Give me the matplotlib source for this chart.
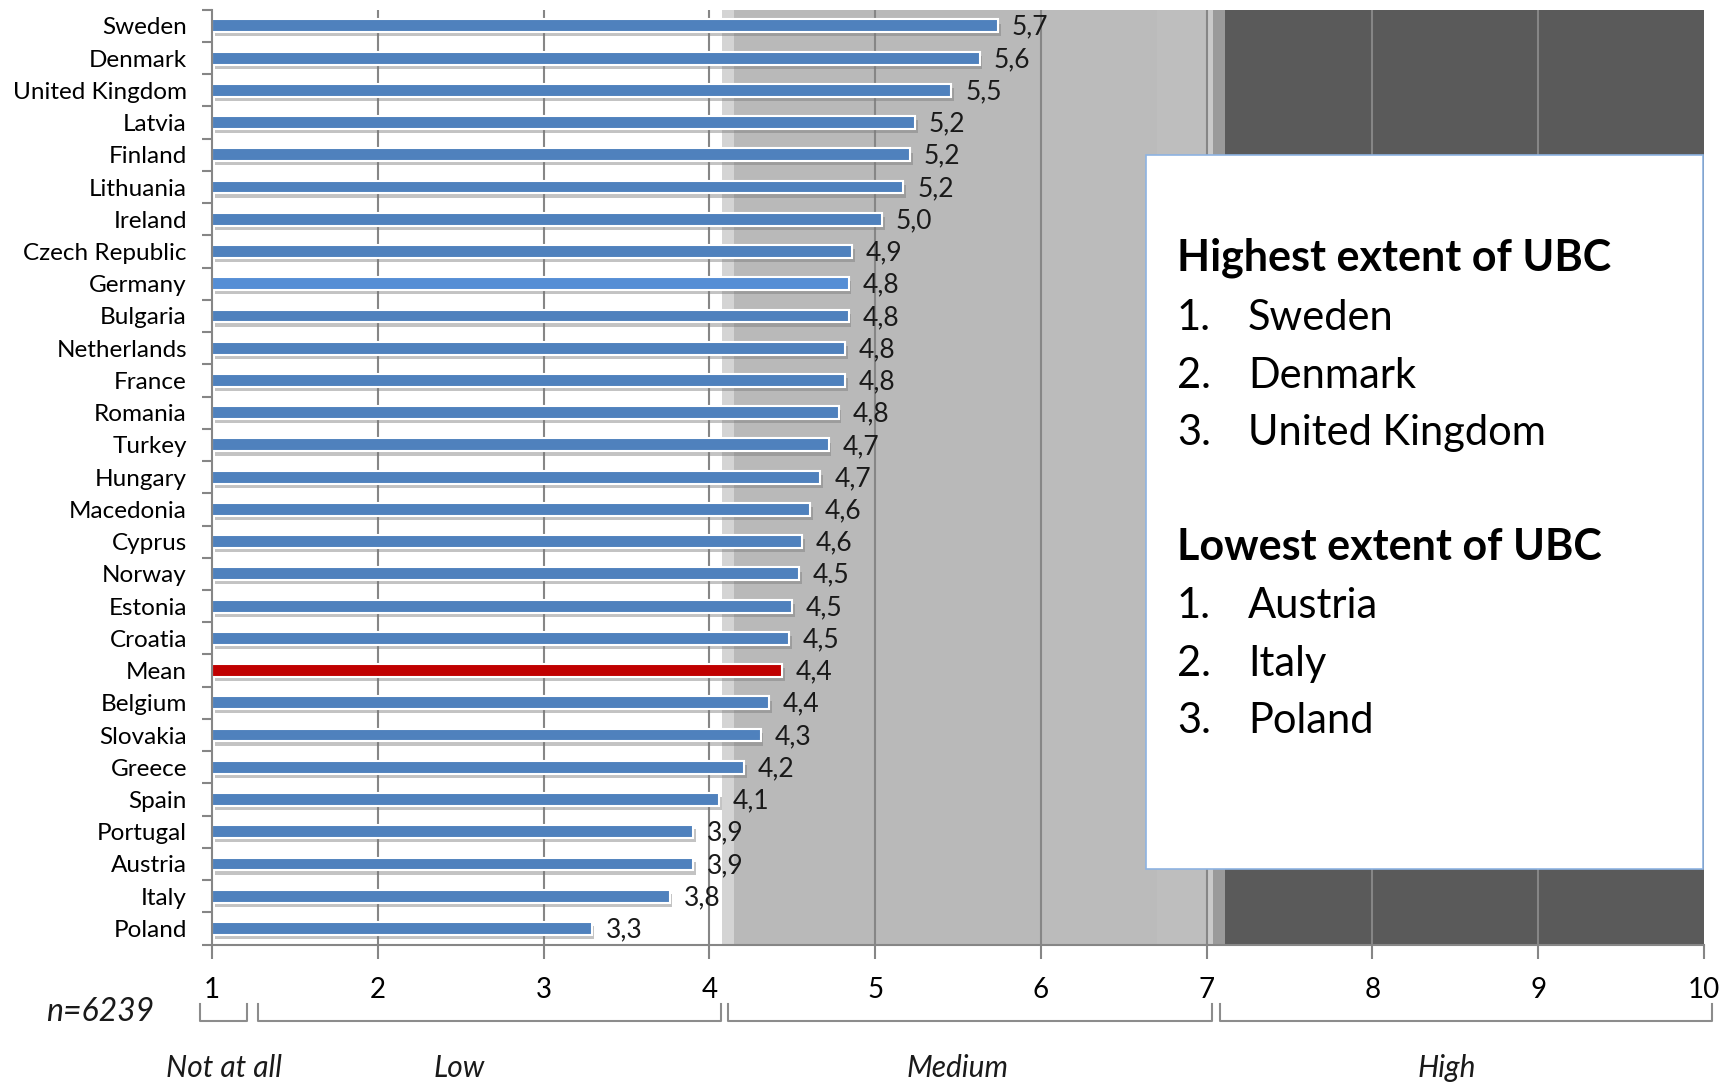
import matplotlib
matplotlib.use("Agg")
import matplotlib.pyplot as plt
import matplotlib.patheffects as pe
from matplotlib.transforms import blended_transform_factory

plt.rcParams['font.family'] = ['Lato', 'DejaVu Sans']

countries = ["Sweden", "Denmark", "United Kingdom", "Latvia", "Finland", "Lithuania",
             "Ireland", "Czech Republic", "Germany", "Bulgaria", "Netherlands", "France",
             "Romania", "Turkey", "Hungary", "Macedonia", "Cyprus", "Norway", "Estonia",
             "Croatia", "Mean", "Belgium", "Slovakia", "Greece", "Spain", "Portugal",
             "Austria", "Italy", "Poland"]
scores = [5.74, 5.63, 5.46, 5.24, 5.21, 5.17, 5.04, 4.86, 4.84, 4.84, 4.82, 4.82,
          4.78, 4.72, 4.67, 4.61, 4.56, 4.54, 4.50, 4.48, 4.44, 4.36, 4.31, 4.21,
          4.06, 3.90, 3.90, 3.76, 3.29]
x_ticks = [1, 2, 3, 4, 5, 6, 7, 8, 9, 10]
groups = ["Not at all", "Low", "Medium", "High"]
group_spans = [(0.93, 1.21), (1.28, 4.07), (4.11, 7.03), (7.08, 10.05)]
group_label_x = [1.07, 2.49, 5.50, 8.45]
top_list = ["Sweden", "Denmark", "United Kingdom"]
bottom_list = ["Austria", "Italy", "Poland"]
sample_note = "n=6239"

BLUE = "#4f81bd"
fig = plt.figure(figsize=(17.23, 10.82), dpi=100)
ax = fig.add_axes([0.123, 0.127, 0.866, 0.864])

# background bands for the scale
bands = [(4.075, 4.15, "#d4d4d4"), (4.15, 6.0, "#b9b9b9"), (6.0, 6.7, "#bbbbbb"),
         (6.7, 7.0, "#bebebe"), (7.0, 7.04, "#c9c9c9"), (7.04, 7.11, "#9a9a9a"),
         (7.11, 10.0, "#5a5a5a")]
for a, b, c in bands:
    ax.axvspan(a, b, color=c, zorder=0, lw=0)
for x in x_ticks[1:-1]:
    ax.axvline(x, color="#868686", lw=1.5, zorder=1)

colors = []
for c in countries:
    if c == "Mean":
        colors.append("#c00000")
    elif c == "Germany":
        colors.append("#558ed5")
    else:
        colors.append(BLUE)

ypos = list(range(len(countries)))
widths = [s - 1 for s in scores]
bars = ax.barh(ypos, widths, left=1, height=0.4, color=colors, edgecolor="white",
               linewidth=1.5, zorder=3)
for bar in bars:
    bar.set_path_effects([pe.SimplePatchShadow(offset=(2, -3), shadow_rgbFace="#7a7a7a",
                                               alpha=0.45), pe.Normal()])

for y, s in zip(ypos, scores):
    ax.annotate(f"{s:.1f}".replace(".", ","), (s, y), xytext=(10, -1),
                textcoords="offset points", va="center", ha="left", fontsize=19,
                color="#1a1a1a", zorder=4)

ax.set_xlim(1, 10)
ax.set_ylim(len(countries) - 0.5, -0.5)
ax.set_xticks(x_ticks)
ax.set_xticklabels([str(t) for t in x_ticks], fontsize=20)
ax.set_yticks(ypos)
ax.set_yticklabels(countries, fontsize=17.5)
ax.set_yticks([i - 0.5 for i in range(len(countries) + 1)], minor=True)
ax.tick_params(axis="y", which="major", length=0, pad=18)
ax.tick_params(axis="y", which="minor", length=7, width=1.5, color="#868686", direction="out")
ax.tick_params(axis="x", which="major", length=10, width=1.5, color="#868686",
               direction="out", pad=13)
for side in ["top", "right"]:
    ax.spines[side].set_visible(False)
for side in ["left", "bottom"]:
    ax.spines[side].set_color("#868686")
    ax.spines[side].set_linewidth(1.5)
    ax.spines[side].set_zorder(5)

# brackets under the axis
tr = blended_transform_factory(ax.transData, ax.transAxes)
y_top, y_bot = -0.064, -0.082
for (a, b), name, lx in zip(group_spans, groups, group_label_x):
    ax.plot([a, a, b, b], [y_top, y_bot, y_bot, y_top], transform=tr, clip_on=False,
            color="#8c8c8c", lw=1.5)
    ax.text(lx, -0.142, name, transform=tr, ha="center", va="baseline",
            fontsize=21.5, style="italic", color="#1a1a1a")
fig.text(100 / 1723, 1 - 1012 / 1082, sample_note, ha="center", va="center",
         fontsize=23, style="italic", color="#1a1a1a")

# summary box
bx0, by0, bx1, by1 = 1146, 155, 1703, 869
box = plt.Rectangle((bx0 / 1723, 1 - by1 / 1082), (bx1 - bx0) / 1723, (by1 - by0) / 1082,
                    transform=fig.transFigure, facecolor="white", edgecolor="#8db3e2",
                    lw=1.2, zorder=10)
fig.patches.append(box)

def fx(px):
    return px / 1723

def fy(px):
    return 1 - px / 1082

fig.text(fx(1177), fy(271), "Highest extent of UBC", fontsize=31, fontweight="bold",
         va="baseline", zorder=11)
for i, (name, base) in enumerate(zip(top_list, [330, 388, 445])):
    fig.text(fx(1177), fy(base), f"{i + 1}.", fontsize=30, va="baseline", zorder=11)
    fig.text(fx(1248), fy(base), name, fontsize=30, va="baseline", zorder=11)
fig.text(fx(1177), fy(560), "Lowest extent of UBC", fontsize=31, fontweight="bold",
         va="baseline", zorder=11)
for i, (name, base) in enumerate(zip(bottom_list, [618, 676, 733])):
    fig.text(fx(1177), fy(base), f"{i + 1}.", fontsize=30, va="baseline", zorder=11)
    fig.text(fx(1248), fy(base), name, fontsize=30, va="baseline", zorder=11)

fig.savefig("out.png", dpi=100)
